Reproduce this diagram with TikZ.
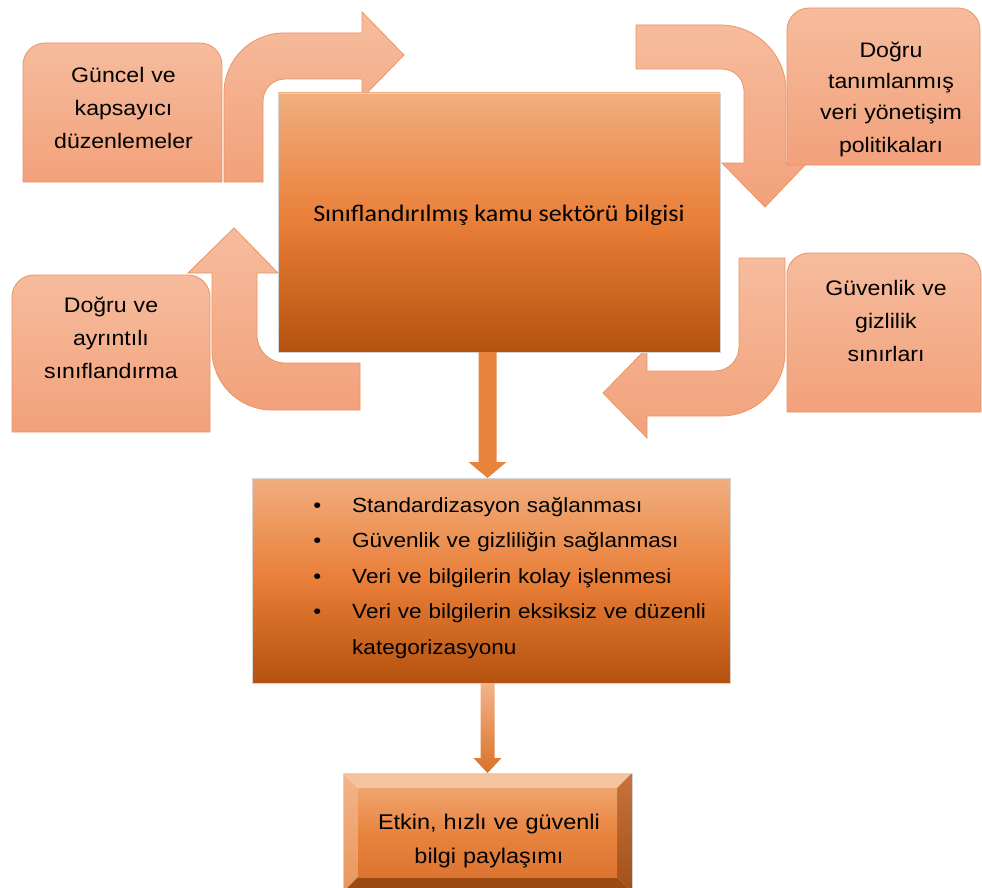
\documentclass[tikz,border=0pt]{standalone}
\usepackage{fontspec}
\setmainfont[FakeStretch=1.1]{Liberation Sans}
\newfontfamily\calfont[FakeStretch=1.1]{Carlito}
\usetikzlibrary{calc}

\definecolor{salmonTop}{HTML}{F6BC9D}
\definecolor{salmonBot}{HTML}{F2A17B}
\definecolor{salmonLine}{HTML}{EC9462}
\definecolor{orTop}{HTML}{F1AE7F}
\definecolor{orMid}{HTML}{E97E37}
\definecolor{orBot}{HTML}{B4520F}
\definecolor{frameGrey}{HTML}{D4D4D4}
\definecolor{faceTop}{HTML}{F0A46E}
\definecolor{faceMid}{HTML}{E8843F}
\definecolor{faceBot}{HTML}{DC7430}
\definecolor{bevTop}{HTML}{F5C3A0}
\definecolor{bevLeftA}{HTML}{F3B58C}
\definecolor{bevLeftB}{HTML}{E9955A}
\definecolor{bevRightA}{HTML}{C8733A}
\definecolor{bevRightB}{HTML}{A0501A}
\definecolor{bevBottom}{HTML}{9C4A14}
\definecolor{arrowOrange}{HTML}{E9823A}
\definecolor{arrowLight}{HTML}{F2B489}
\definecolor{arrowDark}{HTML}{DA7128}

\tikzset{
  salmon/.style={draw=salmonLine, line width=0.8pt, top color=salmonTop, bottom color=salmonBot},
  geom/.style={draw=none, inner sep=0pt, outer sep=0pt},
  orangebox/.style={geom, draw=frameGrey, line width=0.7pt, top color=orTop, bottom color=orBot, middle color=orMid},
  boxtext/.style={anchor=base, text width=210pt, align=center, inner sep=0pt, font=\fontsize{21}{33}\selectfont},
  listtext/.style={anchor=base west, text width=390pt, align=left, inner sep=0pt, font=\fontsize{20.5}{35.5}\selectfont},
  flowarrow/.style={fill=arrowOrange},
  flowarrowsoft/.style={top color=arrowLight, bottom color=arrowDark},
}

\begin{document}
\begin{tikzpicture}[x=1pt,y=-1pt]
\useasboundingbox (0,0) rectangle (982,888);

% ---- bent arrows around the central box (corners as quarter-circle curves) ----
% up and to the right
\draw[salmon] (224,182) -- (224,93) .. controls (224,59.9) and (250.9,33) .. (284,33)
  -- (362,33) -- (362,12) -- (404,55) -- (362,98) -- (362,79) -- (285,79)
  .. controls (272.85,79) and (263,88.85) .. (263,101) -- (263,182) -- cycle;

% right and down
\draw[salmon] (636,25) -- (720,25) .. controls (756.5,25) and (786,54.5) .. (786,91)
  -- (786,163) -- (807,163) -- (765,207) -- (722,163) -- (744,163) -- (744,91)
  .. controls (744,78.85) and (734.15,69) .. (722,69) -- (636,69) -- cycle;

% from below the box, round and up
\draw[salmon] (360,363) -- (285,363) .. controls (269.5,363) and (257,350.5) .. (257,335)
  -- (257,273) -- (278,273) -- (234,228) -- (188,273) -- (212,273) -- (212,350)
  .. controls (212,383.1) and (238.9,410) .. (272,410) -- (360,410) -- cycle;

% down and to the left
\draw[salmon] (739,258) -- (785,258) -- (785,352) .. controls (785,387.3) and (756.3,416) .. (721,416)
  -- (647,416) -- (647,438) -- (603,393) -- (647,348) -- (647,371) -- (715,371)
  .. controls (728.25,371) and (739,360.25) .. (739,347) -- cycle;

% ---- side boxes with rounded top corners ----
\node[geom, minimum width=199pt, minimum height=139pt] (b1) at (122.5,112.5) {};
\node[geom, minimum width=193pt, minimum height=157pt] (b2) at (883.5,86.5) {};
\node[geom, minimum width=198pt, minimum height=157pt] (b3) at (111,353.5) {};
\node[geom, minimum width=194pt, minimum height=159pt] (b4) at (884,332.5) {};
\foreach \b in {b1,b2,b3,b4}
  \draw[salmon] (\b.south west) -- (\b.west) [rounded corners=22pt] -- (\b.north west)
    -- (\b.north east) -- (\b.east) [sharp corners] -- (\b.south east) -- cycle;

% ---- central box and result boxes ----
\node[orangebox, minimum width=442pt, minimum height=259pt] (cbox) at (499,222.5) {};
\node[orangebox, minimum width=478pt, minimum height=205pt] (lbox) at (491,580.5) {};

% bevelled box
\node[geom, minimum width=289pt, minimum height=119pt] (bbox) at (487.5,832.5) {};
\coordinate (fnw) at ($(bbox.north west)+(15,15)$);
\coordinate (fne) at ($(bbox.north east)+(-15,15)$);
\coordinate (fsw) at ($(bbox.south west)+(15,-15)$);
\coordinate (fse) at ($(bbox.south east)+(-15,-15)$);
\fill[bevTop] (bbox.north west) -- (bbox.north east) -- (fne) -- (fnw) -- cycle;
\shade[top color=bevLeftA, bottom color=bevLeftB] (bbox.north west) -- (fnw) -- (fsw) -- (bbox.south west) -- cycle;
\shade[top color=bevRightA, bottom color=bevRightB] (bbox.north east) -- (fne) -- (fse) -- (bbox.south east) -- cycle;
\fill[bevBottom] (bbox.south west) -- (fsw) -- (fse) -- (bbox.south east) -- cycle;
\shade[top color=faceTop, bottom color=faceBot, middle color=faceMid] (fnw) rectangle (fse);
\draw[frameGrey, line width=0.5pt] (bbox.north west) rectangle (bbox.south east);

% ---- texts ----
\node[boxtext] (t1) at (123.5,83) {Güncel ve\\kapsayıcı\\düzenlemeler};
\node[boxtext] (t2) at (891,58) {\fontsize{21}{31}\selectfont Doğru\\tanımlanmış\\veri yönetişim\\politikaları};
\node[boxtext] (t3) at (111,312) {Doğru ve\\ayrıntılı\\sınıflandırma};
\node[boxtext] (t4) at (886,295) {Güvenlik ve\\gizlilik\\sınırları};
\node[anchor=base, inner sep=0pt, font=\calfont\fontsize{23.7}{28}\selectfont] (ctext) at (499,221.7)
  {Sınıflandırılmış kamu sektörü bilgisi};
\node[listtext] (items) at (352,512) {%
  \leavevmode\llap{\textbullet\hskip 31pt}Standardizasyon sağlanması\\
  \leavevmode\llap{\textbullet\hskip 31pt}Güvenlik ve gizliliğin sağlanması\\
  \leavevmode\llap{\textbullet\hskip 31pt}Veri ve bilgilerin kolay işlenmesi\\
  \leavevmode\llap{\textbullet\hskip 31pt}Veri ve bilgilerin eksiksiz ve düzenli\\
  \leavevmode kategorizasyonu};
\node[anchor=base, text width=260pt, align=center, inner sep=0pt, font=\fontsize{21.3}{34}\selectfont]
  (btext) at (489,829) {Etkin, hızlı ve güvenli\\bilgi paylaşımı};

% ---- downward block arrows ----
\coordinate (d1s) at (cbox.south -| bbox.north);
\coordinate (d1e) at (lbox.north -| bbox.north);
\fill[flowarrow] ($(d1s)+(-9,0)$) -- ($(d1e)+(-9,-16)$) -- ($(d1e)+(-19,-16)$) -- (d1e)
  -- ($(d1e)+(19,-16)$) -- ($(d1e)+(9,-16)$) -- ($(d1s)+(9,0)$) -- cycle;

\coordinate (d2s) at (lbox.south -| bbox.north);
\coordinate (d2e) at (bbox.north);
\shade[flowarrowsoft] ($(d2s)+(-7,0)$) -- ($(d2e)+(-7,-15)$) -- ($(d2e)+(-14,-15)$) -- (d2e)
  -- ($(d2e)+(14,-15)$) -- ($(d2e)+(7,-15)$) -- ($(d2s)+(7,0)$) -- cycle;
\end{tikzpicture}
\end{document}
